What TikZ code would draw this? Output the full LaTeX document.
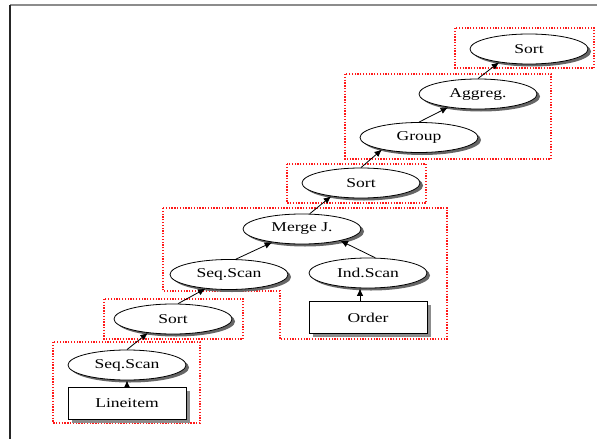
\documentclass[tikz,border=0pt]{standalone}
\usepackage{fontspec}
\setmainfont{Liberation Serif}[FakeStretch=1.3]
\usetikzlibrary{shapes.geometric,shadows,arrows.meta}
\begin{document}
\begin{tikzpicture}[x=1pt,y=-1pt,
  op/.style={ellipse,draw,line width=0.8pt,fill=white,minimum width=118pt,minimum height=30pt,inner sep=0pt,
    font=\fontsize{13.5}{15}\selectfont,
    drop shadow={shadow xshift=3pt,shadow yshift=-2.5pt,fill=black!60,opacity=1}},
  rel/.style={rectangle,draw,line width=0.8pt,fill=white,minimum width=118pt,minimum height=32pt,inner sep=0pt,
    font=\fontsize{13.5}{15}\selectfont,
    drop shadow={shadow xshift=3.5pt,shadow yshift=-3.5pt,fill=black!45,opacity=1}},
  grp/.style={draw=red!90!white,dash pattern=on 1.3pt off 1.5pt,line width=1.3pt},
  arr/.style={-{Latex[length=7.5pt,width=6.5pt]},line width=0.8pt}]
\useasboundingbox (0,0) rectangle (597,439);
% frame
\draw[black!45,line width=1.5pt] (10,5) -- (597,5);
\draw[black!85,line width=1.5pt] (10,5) -- (10,439);
% groups
\draw[grp] (455,28) rectangle (594,68);
\draw[grp] (345,74) rectangle (551,159);
\draw[grp] (287,164) rectangle (426,203);
\draw[grp] (163,208) -- (447,208) -- (447,339) -- (280,339) -- (280,291) -- (163,291) -- cycle;
\draw[grp] (104,299) rectangle (243,339);
\draw[grp] (53,342) rectangle (200,423);
% nodes
\node[op] (sortTop) at (529,49) {Sort};
\node[op] (aggreg) at (478,94) {Aggreg.};
\node[op] (group) at (419,137.5) {Group};
\node[op] (sortMid) at (361,183) {Sort};
\node[op] (merge) at (302,229) {Merge J.};
\node[op] (seqUp) at (229,274.5) {Seq.Scan};
\node[op] (indScan) at (368,273) {Ind.Scan};
\node[rel] (order) at (368,317.5) {Order};
\node[op] (sortLow) at (173,319) {Sort};
\node[op] (seqLow) at (127,365) {Seq.Scan};
\node[rel] (lineitem) at (127,403) {Lineitem};
% arrows
\draw[arr] (lineitem.north) -- (seqLow.south);
\draw[arr] ([xshift=-8pt]order.north) -- ([xshift=-8pt]indScan.south);
\draw[arr] (seqLow.north) -- (sortLow.209);
\draw[arr] (sortLow.72) -- (seqUp.211);
\draw[arr] (seqUp.66) -- (merge.204);
\draw[arr] (indScan.65) -- (merge.343);
\draw[arr] (merge.63) -- (sortMid.204);
\draw[arr] (sortMid.north) -- (group.198);
\draw[arr] (group.north) -- (aggreg.204);
\draw[arr] (aggreg.north) -- (sortTop.204);
\end{tikzpicture}
\end{document}
